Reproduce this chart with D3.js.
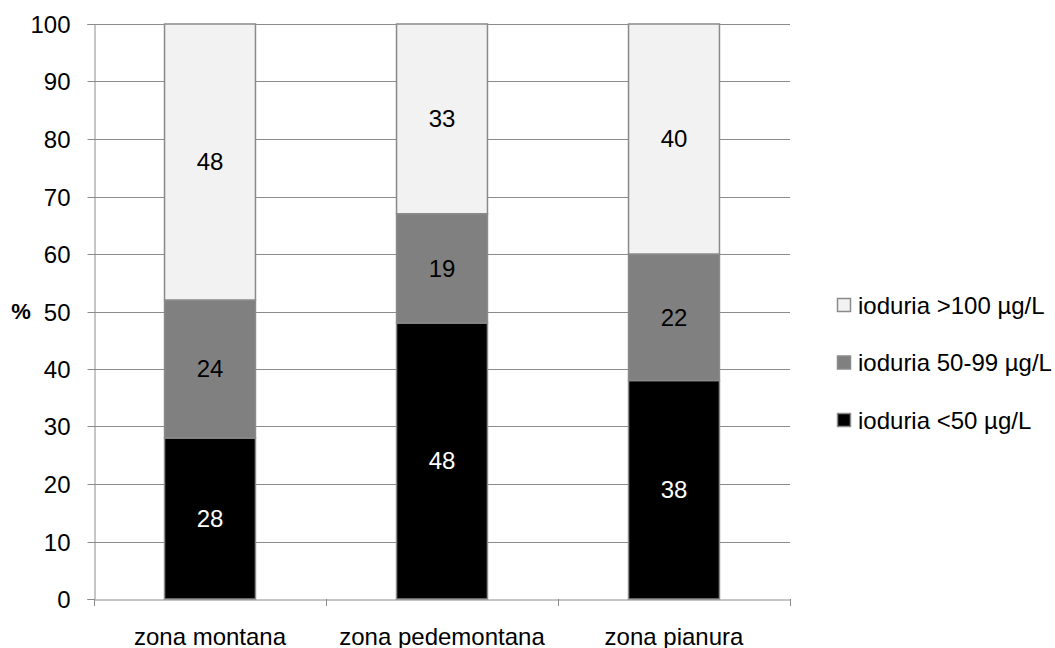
<!DOCTYPE html>
<html>
<head>
<meta charset="utf-8">
<script src="https://cdn.jsdelivr.net/npm/d3@7/dist/d3.min.js"></script>
<style>
  html, body { margin: 0; padding: 0; background: #fff; }
  svg { display: block; font-family: "Liberation Sans", Arial, sans-serif; }
</style>
</head>
<body>
<svg id="chart" width="1055" height="648"></svg>
<script>
// Zones and percentage shares of urinary iodine classes
const categories = ["zona montana", "zona pedemontana", "zona pianura"];
const seriesNames = ["ioduria <50 µg/L", "ioduria 50-99 µg/L", "ioduria >100 µg/L"];
const low = [28, 48, 38];
const mid = [24, 19, 22];
const high = [48, 33, 40];
const yTicks = [0, 10, 20, 30, 40, 50, 60, 70, 80, 90, 100];

const fills = ["#000000", "#808080", "#f2f2f2"];
const labelColors = ["#ffffff", "#000000", "#000000"];
const gridColor = "#8c8c8c";
const FONT = 24;

const svg = d3.select("#chart");
const plotLeft = 94, plotRight = 790, plotTop = 24, plotBottom = 599;

const x = d3.scaleBand().domain(categories).range([plotLeft, plotRight]).padding(0);
const y = d3.scaleLinear().domain([0, 100]).range([plotBottom, plotTop]);
const barW = x.bandwidth() * 0.392;

// horizontal gridlines
svg.append("g")
  .selectAll("line")
  .data(yTicks.filter(d => d > 0))
  .join("line")
  .attr("x1", plotLeft).attr("x2", plotRight)
  .attr("y1", d => Math.round(y(d)) + 0.5).attr("y2", d => Math.round(y(d)) + 0.5)
  .attr("stroke", gridColor).attr("stroke-width", 1);

// y axis
const yAxis = svg.append("g")
  .attr("transform", `translate(${plotLeft + 0.5},0)`)
  .call(d3.axisLeft(y).tickValues(yTicks).tickSize(7).tickPadding(17));
yAxis.select(".domain").attr("stroke", gridColor);
yAxis.selectAll(".tick line").attr("stroke", gridColor);
yAxis.selectAll(".tick").attr("transform", d => `translate(0,${Math.round(y(d)) + 0.5})`);
yAxis.selectAll(".tick text")
  .attr("font-size", FONT).attr("font-family", "Liberation Sans, Arial, sans-serif")
  .attr("fill", "#000").attr("dy", "0.35em");

// x axis
const xAxis = svg.append("g")
  .attr("transform", `translate(0,${plotBottom + 0.5})`)
  .call(d3.axisBottom(x).tickSize(0).tickPadding(0));
xAxis.select(".domain").attr("stroke", gridColor);
xAxis.selectAll(".tick text")
  .attr("font-size", FONT).attr("font-family", "Liberation Sans, Arial, sans-serif")
  .attr("fill", "#000").attr("y", 45).attr("dy", null);

// category separators on the x axis
const edges = categories.map(c => x(c)).concat([x(categories[categories.length - 1]) + x.bandwidth()]);
svg.append("g").selectAll("line").data(edges).join("line")
  .attr("x1", d => Math.round(d) + 0.5).attr("x2", d => Math.round(d) + 0.5)
  .attr("y1", plotBottom).attr("y2", plotBottom + 7)
  .attr("stroke", gridColor);

// stacked bars
const rows = categories.map((c, i) => ({ cat: c, vals: [low[i], mid[i], high[i]] }));
const stack = svg.append("g");
rows.forEach(r => {
  let acc = 0;
  r.vals.forEach((v, k) => {
    const y0 = acc, y1 = acc + v;
    acc = y1;
    const bx = x(r.cat) + (x.bandwidth() - barW) / 2;
    stack.append("rect")
      .attr("x", bx).attr("y", y(y1))
      .attr("width", barW).attr("height", y(y0) - y(y1))
      .attr("fill", fills[k]).attr("stroke", "#8a8a8a").attr("stroke-width", 1.5);
    stack.append("text")
      .attr("x", bx + barW / 2).attr("y", y((y0 + y1) / 2))
      .attr("dy", "0.35em").attr("text-anchor", "middle")
      .attr("font-size", FONT).attr("fill", labelColors[k])
      .text(v);
  });
});

// y axis title
svg.append("text")
  .attr("x", 21).attr("y", y(50)).attr("dy", "0.35em")
  .attr("text-anchor", "middle").attr("font-size", 22).attr("font-weight", "bold")
  .text("%");

// legend (top entry is the top segment)
const legendOrder = [2, 1, 0];
const lg = svg.append("g");
legendOrder.forEach((k, j) => {
  const cy = 305 + j * 57.5;
  lg.append("rect")
    .attr("x", 837.5).attr("y", cy - 6.5).attr("width", 13).attr("height", 13)
    .attr("fill", fills[k]).attr("stroke", "#8a8a8a").attr("stroke-width", 1.5);
  lg.append("text")
    .attr("x", 858).attr("y", cy).attr("dy", "0.36em")
    .attr("font-size", FONT).attr("fill", "#000")
    .text(seriesNames[k]);
});
</script>
</body>
</html>
